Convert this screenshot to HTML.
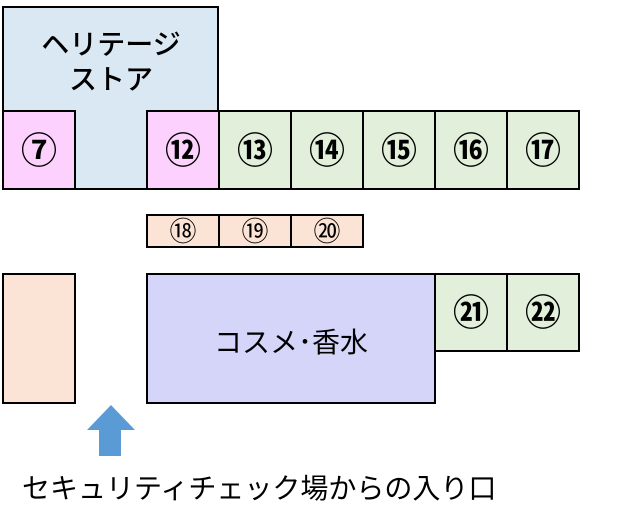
<!DOCTYPE html>
<html><head><meta charset="utf-8"><style>
html,body{margin:0;padding:0;background:#fff;}
svg{display:block;}
text{font-family:"Liberation Sans","Noto Sans CJK JP",sans-serif;fill:#000;}
</style></head><body>
<svg width="630" height="532" viewBox="0 0 630 532" xmlns="http://www.w3.org/2000/svg">
<g stroke="#000" stroke-width="2">
<rect x="3" y="7" width="215" height="182" fill="#dae8f4"/>
<rect x="3" y="111" width="72" height="78" fill="#fdd1fd"/>
<rect x="147" y="111" width="72" height="78" fill="#fdd1fd"/>
<rect x="219" y="111" width="72" height="78" fill="#e2efda"/>
<rect x="291" y="111" width="72" height="78" fill="#e2efda"/>
<rect x="363" y="111" width="72" height="78" fill="#e2efda"/>
<rect x="435" y="111" width="72" height="78" fill="#e2efda"/>
<rect x="507" y="111" width="72" height="78" fill="#e2efda"/>
<rect x="147" y="215" width="72" height="32" fill="#fbe4d6"/>
<rect x="219" y="215" width="72" height="32" fill="#fbe4d6"/>
<rect x="291" y="215" width="72" height="32" fill="#fbe4d6"/>
<rect x="3" y="274" width="72" height="129" fill="#fbe4d6"/>
<rect x="147" y="274" width="288" height="129" fill="#d5d5fa"/>
<rect x="435" y="274" width="72" height="77" fill="#e2efda"/>
<rect x="507" y="274" width="72" height="77" fill="#e2efda"/>
</g>
<polygon points="111,405 135,430 121,430 121,456 99,456 99,430 87,430" fill="#5b9bd5"/>
<g font-size="28" text-anchor="middle" font-weight="500">
<text x="111" y="54">ヘリテージ</text>
<text x="111" y="89">ストア</text>
</g>
<g font-size="36" text-anchor="middle" font-weight="bold">
<text x="39" y="163">⑦</text>
<text x="183" y="163">⑫</text>
<text x="255" y="163">⑬</text>
<text x="327" y="163">⑭</text>
<text x="399" y="163">⑮</text>
<text x="471" y="163">⑯</text>
<text x="543" y="163">⑰</text>
<text x="471" y="325">㉑</text>
<text x="543" y="325">㉒</text>
</g>
<g font-size="27" text-anchor="middle">
<text x="183" y="241">⑱</text>
<text x="255" y="241">⑲</text>
<text x="327" y="241">⑳</text>
</g>
<text x="291" y="352" font-size="28" text-anchor="middle">コスメ･香水</text>
<text x="22" y="498" font-size="28">セキュリティチェック場からの入り口</text>
</svg>
</body></html>
